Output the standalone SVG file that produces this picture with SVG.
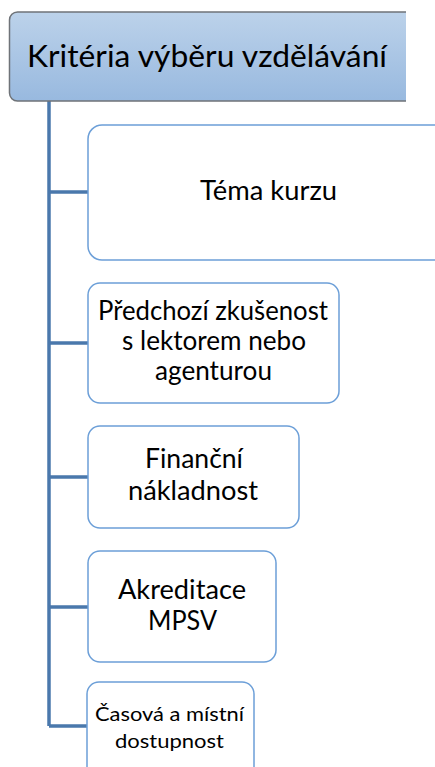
<svg xmlns="http://www.w3.org/2000/svg" width="435" height="767" viewBox="0 0 435 767">
<defs>
<linearGradient id="g" x1="0" y1="0" x2="0" y2="1">
<stop offset="0" stop-color="#bcd2ea"/>
<stop offset="1" stop-color="#98b9df"/>
</linearGradient>
<clipPath id="c"><rect x="0" y="0" width="406" height="767"/></clipPath>
</defs>
<style>
.n{fill:#fff;stroke:#6c9fd8;stroke-width:1.5}
.t{font-family:Lato,"Open Sans","Liberation Sans",sans-serif;fill:#000;text-anchor:middle}
.l{fill:none;stroke:#4a78ac;stroke-width:3.5}
</style>
<g id="connectors">
<path class="l" d="M49 101 V726"/>
<path class="l" d="M49 192 H88 M49 343 H88 M49 477 H88 M49 607 H88 M49 726 H87"/>
</g>
<g id="root" clip-path="url(#c)">
<rect x="9.5" y="12" width="404" height="89" rx="8" fill="url(#g)" stroke="#6f7378" stroke-width="1.5"/>
<text class="t" x="207" y="67" font-size="31" textLength="360" lengthAdjust="spacingAndGlyphs">Kritéria výběru vzdělávání</text>
</g>
<g id="n1">
<rect class="n" x="88" y="125" width="360" height="135" rx="14"/>
<text class="t" x="268.5" y="200" font-size="26" textLength="137" lengthAdjust="spacingAndGlyphs">Téma kurzu</text>
</g>
<g id="n2">
<rect class="n" x="88" y="283" width="251" height="120" rx="12"/>
<text class="t" font-size="26"><tspan x="213" y="320" textLength="230" lengthAdjust="spacingAndGlyphs">Předchozí zkušenost</tspan></text>
<text class="t" font-size="26"><tspan x="214" y="350" textLength="184" lengthAdjust="spacingAndGlyphs">s lektorem nebo</tspan></text>
<text class="t" font-size="26"><tspan x="213.5" y="380" textLength="117" lengthAdjust="spacingAndGlyphs">agenturou</tspan></text>
</g>
<g id="n3">
<rect class="n" x="88" y="426" width="211" height="102" rx="12"/>
<text class="t" font-size="26"><tspan x="194" y="468" textLength="98" lengthAdjust="spacingAndGlyphs">Finanční</tspan></text>
<text class="t" font-size="26"><tspan x="193" y="500" textLength="130" lengthAdjust="spacingAndGlyphs">nákladnost</tspan></text>
</g>
<g id="n4">
<rect class="n" x="88" y="551" width="188" height="111" rx="12"/>
<text class="t" font-size="26"><tspan x="182" y="599" textLength="128" lengthAdjust="spacingAndGlyphs">Akreditace</tspan></text>
<text class="t" font-size="26"><tspan x="182.5" y="630" textLength="69" lengthAdjust="spacingAndGlyphs">MPSV</tspan></text>
</g>
<g id="n5">
<rect class="n" x="87" y="682" width="167" height="100" rx="12"/>
<text class="t" font-size="20"><tspan x="169.5" y="721" textLength="149" lengthAdjust="spacingAndGlyphs">Časová a místní</tspan></text>
<text class="t" font-size="20"><tspan x="169.5" y="748" textLength="109" lengthAdjust="spacingAndGlyphs">dostupnost</tspan></text>
</g>
</svg>
